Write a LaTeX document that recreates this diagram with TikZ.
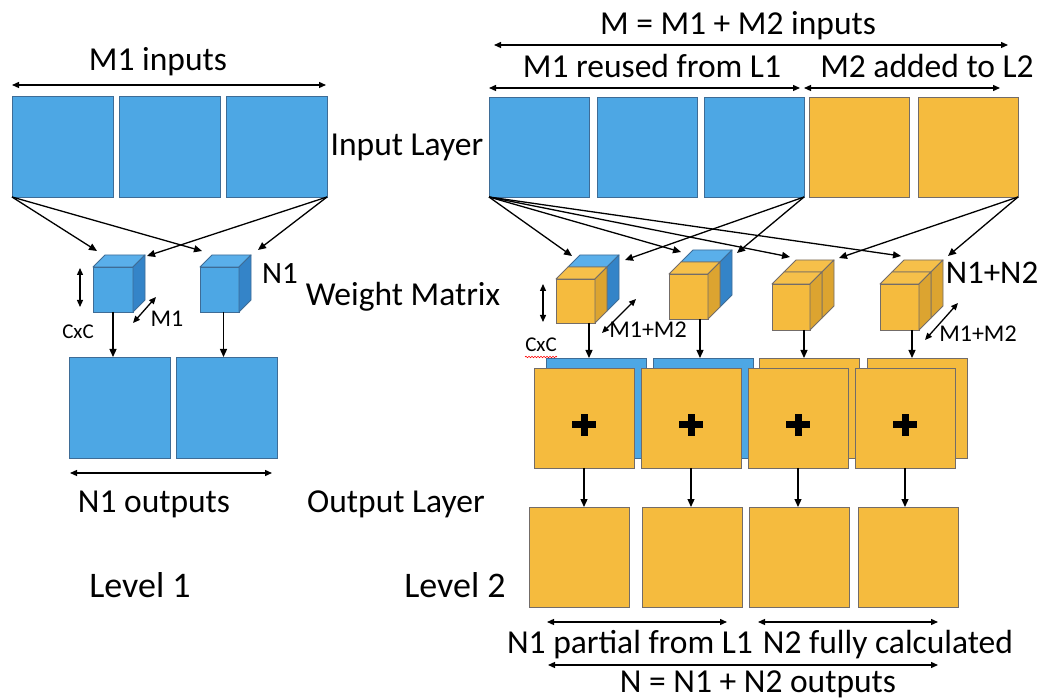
\documentclass[tikz,border=0pt]{standalone}
\usepackage{fontspec}
\setmainfont{Carlito}
\usetikzlibrary{arrows.meta,decorations.pathmorphing}
\definecolor{bluef}{RGB}{77,167,228}
\definecolor{bluet}{RGB}{90,175,234}
\definecolor{blues}{RGB}{52,132,200}
\definecolor{bluel}{RGB}{62,108,150}
\definecolor{yelf}{RGB}{245,187,62}
\definecolor{yelt}{RGB}{246,192,74}
\definecolor{yels}{RGB}{220,164,48}
\definecolor{yell}{RGB}{115,108,104}
\tikzset{
  bsq/.style={draw=bluel, fill=bluef, line width=0.9pt, minimum width=100pt, minimum height=100pt,
    anchor=north west, inner sep=0pt, outer sep=0pt},
  ysq/.style={bsq, draw=yell, fill=yelf},
  face/.style={line width=0.9pt, line join=round},
  arr/.style={-{Triangle[length=8pt,width=7pt]}, line width=1.3pt},
  darr/.style={{Triangle[length=7pt,width=6pt]}-{Triangle[length=7pt,width=6pt]}, line width=1.3pt},
  lbl/.style={font=\fontsize{33.5pt}{36pt}\selectfont, anchor=base, inner sep=0pt},
  big/.style={font=\fontsize{36pt}{40pt}\selectfont, anchor=base, inner sep=0pt},
  mid/.style={font=\fontsize{24pt}{27pt}\selectfont, anchor=base, inner sep=0pt},
  small/.style={font=\fontsize{21pt}{24pt}\selectfont, anchor=base, inner sep=0pt},
}
% single blue cube: name, x, y (front top-left), w, h
\newcommand\scube[5]{%
  \node[bsq, minimum width=#4pt, minimum height=#5pt] (#1) at (#2,#3) {};
  \filldraw[face, draw=bluel, fill=bluet] (#1.north west) -- ++(12,-12) -- ++(#4,0) -- ++(-12,12) -- cycle;
  \filldraw[face, draw=bluel, fill=blues] (#1.north east) -- ++(12,-12) -- ++(0,#5) -- ++(-12,12) -- cycle;
}
% double cube: name, x, y, w, h, front colour prefix, back colour prefix
\newcommand\dcube[7]{%
  \coordinate (#1k) at (#2+12,#3-12);
  \coordinate (#1m) at (#2+12+#4,#3-12);
  \filldraw[face, draw=#7l, fill=#7t] (#1k) -- ++(12,-12) -- ++(#4,0) -- ++(-12,12) -- cycle;
  \filldraw[face, draw=#7l, fill=#7s] (#1m) -- ++(12,-12) -- ++(0,#5) -- ++(-12,12) -- cycle;
  \node[bsq, draw=#6l, fill=#6f, minimum width=#4pt, minimum height=#5pt] (#1) at (#2,#3) {};
  \filldraw[face, draw=#6l, fill=#6t] (#1.north west) -- ++(12,-12) -- ++(#4,0) -- ++(-12,12) -- cycle;
  \filldraw[face, draw=#6l, fill=#6s] (#1.north east) -- ++(12,-12) -- ++(0,#5) -- ++(-12,12) -- cycle;
}
\newcommand\plussign[1]{%
  \fill ([xshift=-12pt,yshift=-3.5pt]#1) rectangle ([xshift=12pt,yshift=3.5pt]#1);
  \fill ([xshift=-3.5pt,yshift=-11pt]#1) rectangle ([xshift=3.5pt,yshift=11pt]#1);
}
\begin{document}
\begin{tikzpicture}[x=1pt,y=-1pt]
\useasboundingbox (0,0) rectangle (1042,700);
\fill[white] (0,0) rectangle (1042,700);

% ================= LEFT: Level 1 =================
\node[lbl] (tm1) at (158,71) {M1 inputs};
\coordinate (aL1) at (12,85); \coordinate (aL2) at (326,85);
\draw[darr] (aL1) -- (aL2);
\node[bsq, minimum size=101pt] (L1) at (12,96) {};
\node[bsq, minimum size=101pt] (L2) at (119,96) {};
\node[bsq, minimum size=101pt] (L3) at (226,96) {};

\scube{cL1}{93}{267}{40}{45}
\scube{cL2}{200}{267}{39}{45}

\coordinate (tL1a) at (97,251); \coordinate (tL1b) at (147,256);
\coordinate (tL2a) at (202,251); \coordinate (tL2b) at (258,250);
\draw[arr] (L1.south west) -- (tL1a);
\draw[arr] (L1.south west) -- (tL2a);
\draw[arr] (L3.south east) -- (tL1b);
\draw[arr] (L3.south east) -- (tL2b);

\node[bsq, minimum size=101pt] (OL1) at (69,357) {};
\node[bsq, minimum size=101pt] (OL2) at (176,357) {};
\draw[arr] (cL1.south) -- (cL1.south |- OL1.north);
\coordinate (dL2) at ([xshift=4pt]cL2.south);
\draw[arr] (dL2) -- (dL2 |- OL2.north);

\coordinate (vL1) at (80,268); \coordinate (vL2) at (80,307);
\draw[darr] (vL1) -- (vL2);
\node[small] (cxcL) at (78,339) {CxC};
\coordinate (gL1) at (133,323); \coordinate (gL2) at (156,297);
\draw[darr] (gL1) -- (gL2);
\node[mid] (m1L) at (167,327) {M1};
\node[font=\fontsize{31pt}{34pt}\selectfont, anchor=base, inner sep=0pt] (n1L) at (280,284) {N1};

\coordinate (oL1) at (70,473); \coordinate (oL2) at (272,473);
\draw[darr] (oL1) -- (oL2);
\node[lbl] (tn1) at (154,512) {N1 outputs};
\node[big] (lev1) at (140,597) {Level 1};

% ================= MIDDLE LABELS =================
\node[lbl] (inl) at (407,156) {Input Layer};
\node[lbl] (wml) at (403,306) {Weight Matrix};
\node[lbl] (oul) at (396,512) {Output Layer};
\node[big] (lev2) at (455,597) {Level 2};

% ================= RIGHT: Level 2 =================
\node[lbl] (tM) at (738,35) {M = M1 + M2 inputs};
\coordinate (aM1) at (494,45); \coordinate (aM2) at (1008,45);
\draw[darr] (aM1) -- (aM2);
\node[lbl] (tr1) at (652,78) {M1 reused from L1};
\node[lbl] (tr2) at (927,78) {M2 added to L2};
\coordinate (b1) at (489,88); \coordinate (b2) at (800,88);
\coordinate (b3) at (804,88); \coordinate (b4) at (1000,88);
\draw[darr] (b1) -- (b2);
\draw[darr] (b3) -- (b4);

\node[bsq] (R1) at (489,97) {};
\node[bsq] (R2) at (597,97) {};
\node[bsq] (R3) at (704,97) {};
\node[ysq] (R4) at (809,97) {};
\node[ysq] (R5) at (918,97) {};

\dcube{cA}{556}{279}{39}{44}{yel}{blue}
\dcube{cB}{669}{274}{39}{45}{yel}{blue}
\dcube{cC}{772}{284}{38}{46}{yel}{yel}
\dcube{cD}{880}{284}{39}{46}{yel}{yel}

\coordinate (tA1) at (572,256); \coordinate (tB1) at (681,252);
\coordinate (tC1) at (790,257); \coordinate (tD1) at (901,256);
\coordinate (tA2) at (625,260); \coordinate (tB2) at (737,253);
\coordinate (tC2) at (839,258); \coordinate (tD2) at (948,256);
\draw[arr] (R1.south west) -- (tA1);
\draw[arr] (R1.south west) -- (tB1);
\draw[arr] (R1.south west) -- (tC1);
\draw[arr] (R1.south west) -- (tD1);
\draw[arr] (R3.south east) -- (tA2);
\draw[arr] (R3.south east) -- (tB2);
\draw[arr] (R5.south east) -- (tC2);
\draw[arr] (R5.south east) -- (tD2);

\coordinate (vA1) at (543,284); \coordinate (vA2) at (543,322);
\draw[darr] (vA1) -- (vA2);
\node[small] (cxcR) at (541,352) {CxC};
\draw[red, line width=0.6pt, decorate, decoration={snake, amplitude=0.8pt, segment length=3pt}]
  ([yshift=-5pt]cxcR.base west) -- ([yshift=-5pt]cxcR.base east);
\coordinate (gA1) at (602,333); \coordinate (gA2) at (636,299);
\draw[darr] (gA1) -- (gA2);
\node[mid] (mmA) at (648,338) {M1+M2};
\coordinate (gD1) at (925,340); \coordinate (gD2) at (958,303);
\draw[darr] (gD1) -- (gD2);
\node[mid] (mmD) at (978,342) {M1+M2};
\node[font=\fontsize{33pt}{36pt}\selectfont, anchor=base, inner sep=0pt] (n12) at (992,284) {N1+N2};

% output layer, stacked
\node[bsq] (OB1) at (546,358) {};
\node[bsq] (OB2) at (653,358) {};
\node[ysq] (OB3) at (759,358) {};
\node[ysq] (OB4) at (867,358) {};
\node[ysq] (OF1) at (534,368) {};
\node[ysq] (OF2) at (641,368) {};
\node[ysq] (OF3) at (748,368) {};
\node[ysq] (OF4) at (855,368) {};
\coordinate (p1) at ([yshift=-7pt]OF1.center);
\coordinate (p2) at ([yshift=-7pt]OF2.center);
\coordinate (p3) at ([yshift=-7pt]OF3.center);
\coordinate (p4) at ([yshift=-7pt]OF4.center);
\plussign{p1}\plussign{p2}\plussign{p3}\plussign{p4}

\coordinate (dA) at ([xshift=33pt]cA.south west);
\coordinate (dB) at ([xshift=31pt]cB.south west);
\coordinate (dC) at ([xshift=32pt]cC.south west);
\coordinate (dD) at ([xshift=32pt]cD.south west);
\draw[arr] (dA) -- (dA |- OB1.north);
\draw[arr] (dB) -- (dB |- OB2.north);
\draw[arr] (dC) -- (dC |- OB3.north);
\draw[arr] (dD) -- (dD |- OB4.north);

\node[ysq] (BO1) at (529,507) {};
\node[ysq] (BO2) at (642,507) {};
\node[ysq] (BO3) at (749,507) {};
\node[ysq] (BO4) at (858,507) {};
\draw[arr] (OF1.south) -- (OF1.south |- BO1.north);
\draw[arr] (OF2.south) -- (OF2.south |- BO2.north);
\draw[arr] (OF3.south) -- (OF3.south |- BO3.north);
\draw[arr] (OF4.south) -- (OF4.south |- BO4.north);

\coordinate (c1) at (547,622); \coordinate (c2) at (727,622);
\coordinate (c3) at (758,622); \coordinate (c4) at (938,622);
\draw[darr] (c1) -- (c2);
\draw[darr] (c3) -- (c4);
\node[lbl] (tp1) at (630,653) {N1 partial from L1};
\node[lbl] (tp2) at (888,653) {N2 fully calculated};
\coordinate (e1) at (548,665); \coordinate (e2) at (938,665);
\draw[darr] (e1) -- (e2);
\node[lbl] (tN) at (758,692) {N = N1 + N2 outputs};
\end{tikzpicture}
\end{document}
